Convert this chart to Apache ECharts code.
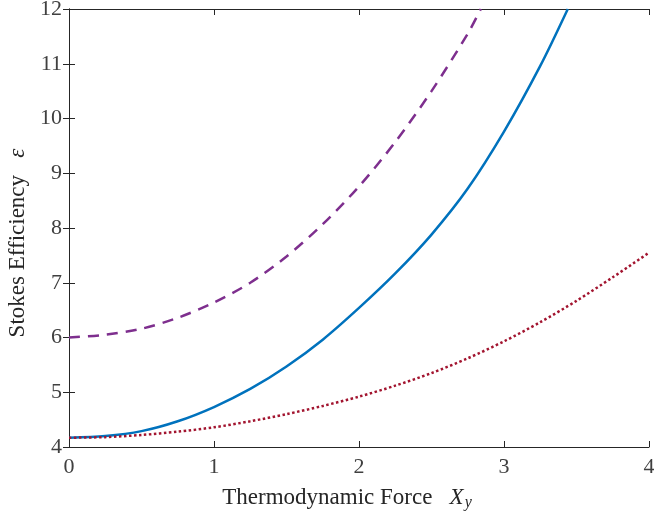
<!DOCTYPE html>
<html>
<head>
<meta charset="utf-8">
<title>Stokes Efficiency</title>
<script src="https://cdn.jsdelivr.net/npm/echarts@6/dist/echarts.min.js"></script>
<style>
    html, body { margin: 0; padding: 0; background: #fff; }
    #main { width: 654px; height: 521px; }
</style>
</head>
<body>
<div id="main"></div>
<script>
// dashed purple curve
var dashX = [0, 0.25, 0.5, 0.75, 1.0, 1.25, 1.5, 1.75, 2.0, 2.25, 2.5, 2.75, 2.84];
var dashY = [6.0, 6.05, 6.16, 6.36, 6.64, 7.0, 7.48, 8.07, 8.76, 9.57, 10.5, 11.55, 12.0];

// solid blue curve
var solidX = [0, 0.25, 0.5, 0.75, 1.0, 1.25, 1.5, 1.75, 2.0, 2.25, 2.5, 2.75, 3.0, 3.25, 3.44];
var solidY = [4.17, 4.2, 4.29, 4.47, 4.73, 5.06, 5.47, 5.96, 6.54, 7.17, 7.88, 8.72, 9.76, 10.96, 12.0];

// dotted red curve
var dotX = [0, 0.25, 0.5, 0.75, 1.0, 1.25, 1.5, 1.75, 2.0, 2.25, 2.5, 2.75, 3.0, 3.25, 3.5, 3.75, 4.0];
var dotY = [4.17, 4.18, 4.22, 4.28, 4.36, 4.47, 4.6, 4.75, 4.92, 5.12, 5.35, 5.62, 5.93, 6.28, 6.67, 7.1, 7.55];

var xTicks = [0, 1, 2, 3, 4];
var yTicks = [4, 5, 6, 7, 8, 9, 10, 11, 12];

function pairs(xs, ys) {
    var out = [];
    for (var i = 0; i < xs.length; i++) {
        out.push([xs[i], ys[i]]);
    }
    return out;
}

var serif = 'Liberation Serif';
var axisColor = '#262626';

var myChart = echarts.init(document.getElementById('main'));
var option = {
    backgroundColor: '#fff',
    animation: false,
    grid: { left: 69, right: 5, top: 9, bottom: 74, containLabel: false, outerBoundsMode: 'none' },
    xAxis: [{
        type: 'value',
        min: xTicks[0],
        max: xTicks[xTicks.length - 1],
        interval: 1,
        name: '{a|Thermodynamic Force   }{i|X}{s|y}',
        nameLocation: 'middle',
        nameGap: 38,
        nameTextStyle: {
            padding: [0, 24, 0, 0],
            rich: {
                a: { fontFamily: serif, fontSize: 23, color: '#262626' },
                i: { fontFamily: serif, fontSize: 23, fontStyle: 'italic', color: '#262626' },
                s: { fontFamily: serif, fontSize: 16, fontStyle: 'italic', color: '#262626', padding: [10, 0, 0, 1] }
            }
        },
        splitLine: { show: false },
        axisLine: { lineStyle: { color: axisColor, width: 1 } },
        axisTick: { inside: true, length: 6, lineStyle: { color: axisColor } },
        axisLabel: { fontFamily: serif, fontSize: 22, color: '#404040', margin: 9 }
    }, {
        type: 'value',
        position: 'top',
        min: 0, max: 4, interval: 1,
        splitLine: { show: false },
        axisLine: { lineStyle: { color: axisColor, width: 1 } },
        axisTick: { inside: true, length: 6, lineStyle: { color: axisColor } },
        axisLabel: { show: false }
    }],
    yAxis: [{
        type: 'value',
        min: yTicks[0],
        max: yTicks[yTicks.length - 1],
        interval: 1,
        name: '{a|Stokes Efficiency   }{i|ε}',
        nameLocation: 'middle',
        nameRotate: 90,
        nameGap: 40,
        nameTextStyle: {
            padding: [0, 30, 0, 0],
            rich: {
                a: { fontFamily: serif, fontSize: 23, color: '#262626' },
                i: { fontFamily: serif, fontSize: 23, fontStyle: 'italic', color: '#262626' }
            }
        },
        splitLine: { show: false },
        axisLine: { show: true, lineStyle: { color: axisColor, width: 1 } },
        axisTick: { show: true, inside: true, length: 6, lineStyle: { color: axisColor } },
        axisLabel: { fontFamily: serif, fontSize: 22, color: '#404040', margin: 7 }
    }, {
        type: 'value',
        position: 'right',
        min: 4, max: 12, interval: 1,
        splitLine: { show: false },
        axisLine: { show: true, lineStyle: { color: axisColor, width: 1 } },
        axisTick: { show: true, inside: true, length: 6, lineStyle: { color: axisColor } },
        axisLabel: { show: false }
    }],
    series: [{
        type: 'line',
        data: pairs(dashX, dashY),
        smooth: 0.3,
        showSymbol: false,
        clip: true,
        lineStyle: { color: '#7E2F8E', width: 2.5, type: [11, 8] }
    }, {
        type: 'line',
        data: pairs(solidX, solidY),
        smooth: 0.3,
        showSymbol: false,
        clip: true,
        lineStyle: { color: '#0072BD', width: 2.5, type: 'solid' }
    }, {
        type: 'line',
        data: pairs(dotX, dotY),
        smooth: 0.3,
        showSymbol: false,
        clip: true,
        lineStyle: { color: '#A2142F', width: 2.5, type: [2.5, 2.5] }
    }]
};
myChart.setOption(option);
</script>
</body>
</html>
